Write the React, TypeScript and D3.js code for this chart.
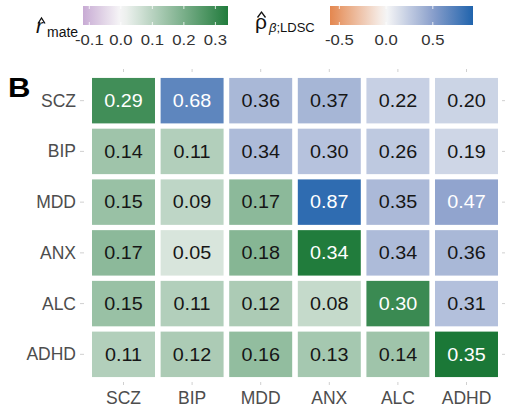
import React from 'react';
import * as d3 from 'd3';

const width = 505;
const height = 412;
const font = '"Liberation Sans", Arial, Helvetica, sans-serif';

const traits = ['SCZ', 'BIP', 'MDD', 'ANX', 'ALC', 'ADHD'];

// lower triangle incl. diagonal: r_mate (row i, cols 0..i)
const rmateRows = [
  [0.29],
  [0.14, 0.11],
  [0.15, 0.09, 0.17],
  [0.17, 0.05, 0.18, 0.34],
  [0.15, 0.11, 0.12, 0.08, 0.30],
  [0.11, 0.12, 0.16, 0.13, 0.14, 0.35],
];

// upper triangle: rho LDSC (row i, cols i+1..5)
const rhoRows = [
  [0.68, 0.36, 0.37, 0.22, 0.20],
  [0.34, 0.30, 0.26, 0.19],
  [0.87, 0.35, 0.47],
  [0.34, 0.36],
  [0.31],
];

const rmateTicks = [-0.1, 0.0, 0.1, 0.2, 0.3];
const rhoTicks = [-0.5, 0.0, 0.5];

const rmateColor = d3
  .scaleLinear<string>()
  .domain([-0.12, 0, 0.35])
  .range(['#c8abd4', '#f7f7f7', '#1b7837'])
  .clamp(true);

const rhoColor = d3
  .scaleLinear<string>()
  .domain([-0.6, 0, 0.5, 0.93])
  .range(['#e4874f', '#f7f7f7', '#8a9fcb', '#2064ad'])
  .clamp(true);

type Cell = { row: string; col: string; value: number; kind: 'rmate' | 'rho' };

const cells: Cell[] = [];
rmateRows.forEach((vals, i) =>
  vals.forEach((v, j) => cells.push({ row: traits[i], col: traits[j], value: v, kind: 'rmate' }))
);
rhoRows.forEach((vals, i) =>
  vals.forEach((v, k) => cells.push({ row: traits[i], col: traits[i + 1 + k], value: v, kind: 'rho' }))
);

const x = d3.scaleBand().domain(traits).range([89.2, 500.8]).paddingInner(0.082).paddingOuter(0.041);
const y = d3.scaleBand().domain(traits).range([75.3, 379.7]).paddingInner(0.104).paddingOuter(0.052);

const tickGrey = '#d0d0d0';

const ColorBar = ({
  id, x0, x1, domain, scale, ticks,
}: {
  id: string; x0: number; x1: number; domain: [number, number];
  scale: (v: number) => string; ticks: number[];
}) => {
  const bx = d3.scaleLinear().domain(domain).range([x0, x1]);
  const stops = d3.range(0, 1.0001, 0.05).map(t => domain[0] + t * (domain[1] - domain[0]));
  const top = 6, h = 19;
  return (
    <g>
      <defs>
        <linearGradient id={id} x1="0" x2="1" y1="0" y2="0">
          {stops.map((v, i) => (
            <stop key={i} offset={`${(i / (stops.length - 1)) * 100}%`} stopColor={scale(v)} />
          ))}
        </linearGradient>
      </defs>
      <rect x={x0} y={top} width={x1 - x0} height={h} fill={`url(#${id})`} />
      {ticks.map(t => (
        <g key={t}>
          <line x1={bx(t)} x2={bx(t)} y1={top} y2={top + 3} stroke="white" strokeWidth={0.8} />
          <line x1={bx(t)} x2={bx(t)} y1={top + h - 3} y2={top + h} stroke="white" strokeWidth={0.8} />
          <text transform={`translate(${bx(t)},45) scale(1.15,1)`} textAnchor="middle"
            fontSize={14.5} fill="#333" fontFamily={font}>
            {t.toFixed(1)}
          </text>
        </g>
      ))}
    </g>
  );
};

export default function App() {
  return (
    <svg width={width} height={height} style={{ position: 'absolute', left: 0, top: 0, background: 'white' }}>
      {/* legend: r_mate */}
      <path d="M38,23.5 L41.5,18 L45,23.5" fill="none" stroke="#111" strokeWidth={1.3} />
      <text x={36} y={33} fontSize={21} fontStyle="italic" fontFamily={font} fill="#111">r</text>
      <text x={47} y={37} fontSize={14} fontFamily={font} fill="#111">mate</text>
      <ColorBar id="gm" x0={83} x1={228} domain={[-0.12, 0.34]} scale={rmateColor} ticks={rmateTicks} />

      {/* legend: rho */}
      <path d="M257.5,17.5 L261.5,12 L265.5,17.5" fill="none" stroke="#111" strokeWidth={1.3} />
      <text x={255} y={29} fontSize={21} fontFamily={font} fill="#111">ρ</text>
      <text x={269} y={32} fontSize={13} fontFamily={font} fill="#111">
        <tspan fontStyle="italic">β</tspan>;LDSC
      </text>
      <ColorBar id="gr" x0={330} x1={473} domain={[-0.6, 0.93]} scale={rhoColor} ticks={rhoTicks} />

      {/* panel letter */}
      <text transform="translate(8,97) scale(1.15,1)" fontSize={27} fontWeight="bold" fontFamily={font} fill="#000">B</text>

      {/* tick marks on four sides */}
      {traits.map(t => {
        const cx = (x(t) ?? 0) + x.bandwidth() / 2;
        const cy = (y(t) ?? 0) + y.bandwidth() / 2;
        return (
          <g key={t} stroke={tickGrey} strokeWidth={1}>
            <line x1={cx} x2={cx} y1={69} y2={72} />
            <line x1={cx} x2={cx} y1={382} y2={385} />
            <line x1={80} x2={84} y1={cy} y2={cy} />
            <line x1={502} x2={505} y1={cy} y2={cy} />
          </g>
        );
      })}

      {/* axis labels */}
      {traits.map(t => (
        <text key={'y' + t} x={76} y={(y(t) ?? 0) + y.bandwidth() / 2} dy="0.34em"
          textAnchor="end" fontSize={17.5} fill="#4d4d4d" fontFamily={font}>
          {t}
        </text>
      ))}
      {traits.map(t => (
        <text key={'x' + t} x={(x(t) ?? 0) + x.bandwidth() / 2} y={403.5}
          textAnchor="middle" fontSize={17.5} fill="#4d4d4d" fontFamily={font}>
          {t}
        </text>
      ))}

      {/* cells */}
      {cells.map(c => {
        const fill = c.kind === 'rmate' ? rmateColor(c.value) : rhoColor(c.value);
        const textFill = d3.lab(fill).l < 68 ? '#ffffff' : '#161616';
        const cx = (x(c.col) ?? 0) + x.bandwidth() / 2;
        const cy = (y(c.row) ?? 0) + y.bandwidth() / 2;
        return (
          <g key={c.row + c.col}>
            <rect x={x(c.col)} y={y(c.row)} width={x.bandwidth()} height={y.bandwidth()} fill={fill} />
            <text transform={`translate(${cx},${cy}) scale(1.13,1)`} dy="0.36em" textAnchor="middle"
              fontSize={17.5} fill={textFill} fontFamily={font}>
              {c.value.toFixed(2)}
            </text>
          </g>
        );
      })}
    </svg>
  );
}
